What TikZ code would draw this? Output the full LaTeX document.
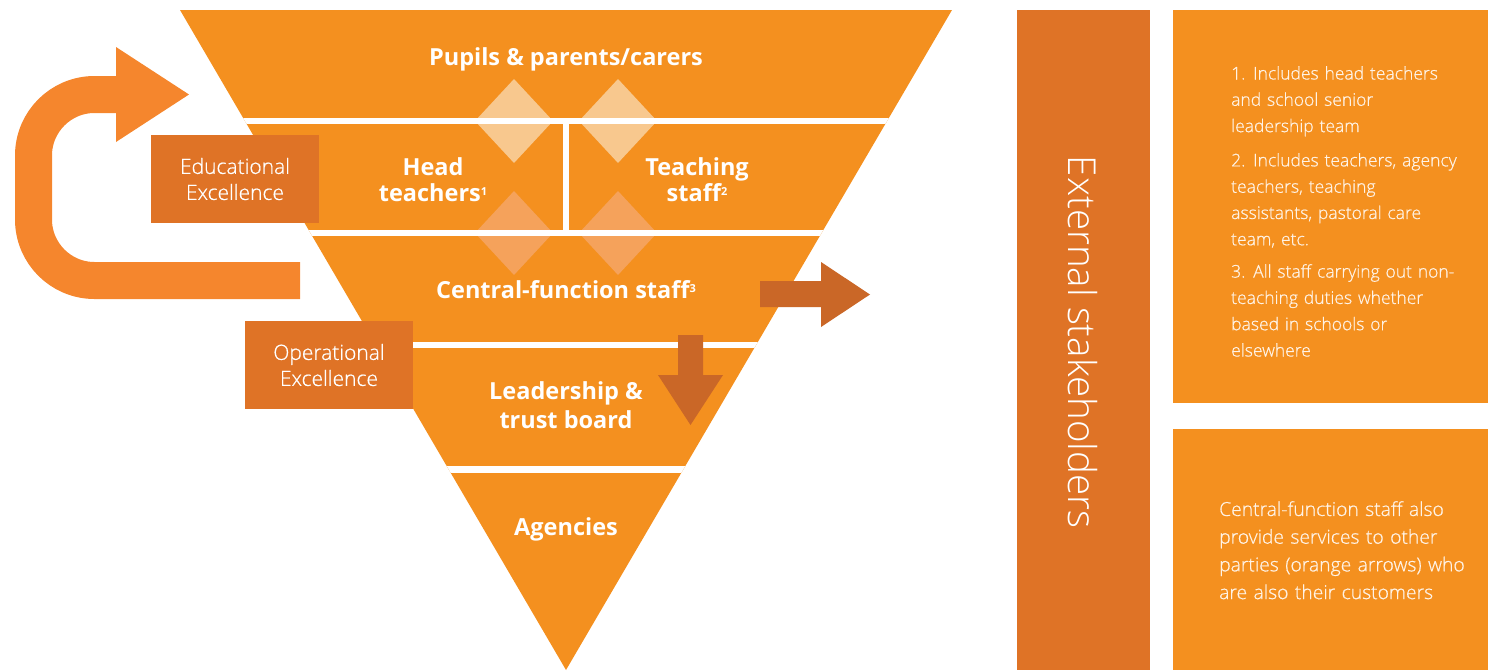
\documentclass[tikz,border=0pt]{standalone}
\usepackage{fontspec}
\setmainfont{Open Sans}
\newfontfamily\lightfont{Open Sans Light}[FakeBold=0.7]
\newfontfamily\thinfont{Open Sans Light}
\definecolor{band}{HTML}{F4901F}
\definecolor{deep}{HTML}{DF7326}
\definecolor{arrowdark}{HTML}{CA6727}
\definecolor{loopc}{HTML}{F5862D}
\definecolor{paleA}{HTML}{F8C88E}
\definecolor{paleB}{HTML}{F5A25B}
\definecolor{notetext}{HTML}{FFF3E6}
\tikzset{
  tier/.style={text=white, font=\bfseries\fontsize{23.5}{26}\selectfont, align=center, inner sep=0pt},
  deepbox/.style={fill=deep, text=white, minimum width=168pt, minimum height=88pt,
    font=\lightfont\fontsize{21}{26}\selectfont, align=center, inner sep=0pt},
  notebox/.style={fill=band},
  notefont/.style={text=notetext, inner sep=0pt, align=left},
}
\newcommand{\sups}[1]{\raisebox{6pt}{\fontsize{11}{11}\selectfont #1}}
\newcommand{\itm}[1]{\hangindent=22pt\hangafter=1\makebox[22pt][l]{#1}}
\begin{document}
\begin{tikzpicture}[x=1pt,y=-1pt]
\useasboundingbox (0,0) rectangle (1488,670);

% inverted pyramid
\coordinate (tl) at (180,10);
\coordinate (tr) at (952,10);
\coordinate (apex) at (566,670);
\fill[band] (tl) -- (tr) -- (apex) -- cycle;

% translucent diamonds on the tier boundaries
\foreach \cx in {514,618} {
  \fill[paleA] (\cx,79) -- (\cx+39,121) -- (\cx,163) -- (\cx-39,121) -- cycle;
  \fill[paleB] (\cx,191) -- (\cx+39,233) -- (\cx,275) -- (\cx-39,233) -- cycle;
}

% white separators between tiers
\begin{scope}
  \clip (tl) -- (tr) -- (apex) -- cycle;
  \fill[white] (150,118) rectangle (1000,124);
  \fill[white] (150,230) rectangle (1000,236);
  \fill[white] (150,342) rectangle (1000,348);
  \fill[white] (150,466) rectangle (1000,473);
  \fill[white] (563,124) rectangle (569,230);
\end{scope}

% tier labels
\node[tier] (pupils) at (566,59) {Pupils \& parents/carers};
\node[tier] (heads) at (433,180) {Head\\teachers\sups{1}};
\node[tier] (teaching) at (697,180) {Teaching\\staff\sups{2}};
\node[tier] (central) at (566,290) {Central-function staff\sups{3}};
\node[tier, font=\bfseries\fontsize{23.5}{29}\selectfont] (leaders) at (566,405) {Leadership \&\\trust board};
\node[tier] (agencies) at (566,529) {Agencies};

% feedback loop arrow
\draw[loopc, line width=37pt, rounded corners=61pt]
  (300,280.5) -- (33.5,280.5) -- (33.5,94.5) -- (117,94.5);
\fill[loopc] (116,47) -- (189,94.5) -- (116,142) -- cycle;

% outward service arrow
\fill[arrowdark] (760,281) -- (821,281) -- (821,262) -- (870,294.5)
  -- (821,327) -- (821,307) -- (760,307) -- cycle;

% downward arrow
\fill[arrowdark] (678,335) -- (703,335) -- (703,375) -- (723,375)
  -- (690.5,425) -- (658,375) -- (678,375) -- cycle;

% excellence boxes
\node[deepbox] (edu) at (235,179) {Educational\\Excellence};
\node[deepbox] (ops) at (329,365) {Operational\\Excellence};

% external stakeholders column
\fill[deep] (1017,10) rectangle (1150,670);
\node[text=white, rotate=-90, font=\thinfont\fontsize{38.5}{38.5}\selectfont, inner sep=0pt]
  (ext) at (1083,342) {External stakeholders};

% notes
\fill[notebox] (1173,10) rectangle (1488,403);
\fill[notebox] (1173,429) rectangle (1488,670);
\node[notefont, anchor=north west, text width=250pt,
  font=\lightfont\fontsize{17.5}{26.3}\selectfont] (notes) at (1231,66) {%
  \itm{1.}Includes head teachers\\and school senior\\leadership team\par
  \vspace{8pt}\itm{2.}Includes teachers, agency\\teachers, teaching\\assistants, pastoral care\\team, etc.\par
  \vspace{6pt}\itm{3.}All staff carrying out non-\\teaching duties whether\\based in schools or\\elsewhere\par};
\node[notefont, anchor=north west, text width=260pt,
  font=\lightfont\fontsize{19.3}{27.7}\selectfont] (service) at (1219,501) {%
  Central-function staff also\\provide services to other\\parties (orange arrows) who\\are also their customers};
\end{tikzpicture}
\end{document}
